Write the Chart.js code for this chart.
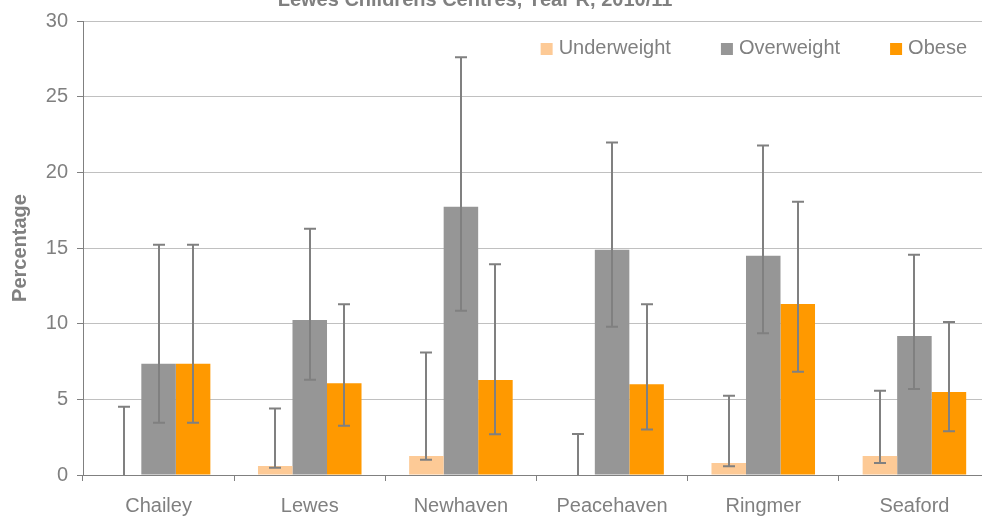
<!DOCTYPE html>
<html>
<head>
<meta charset="utf-8">
<script src="https://cdn.jsdelivr.net/npm/chart.js@4.4.0/dist/chart.umd.min.js"></script>
<style>
  html, body { margin: 0; padding: 0; background: #fff; overflow: hidden; }
  #wrap { position: relative; width: 992px; height: 517px; }
</style>
</head>
<body>
<div id="wrap">
    <canvas id="weightChart" width="992" height="517"></canvas>
</div>

<script>
var categories = ['Chailey', 'Lewes', 'Newhaven', 'Peacehaven', 'Ringmer', 'Seaford'];
var seriesNames = ['Underweight', 'Overweight', 'Obese'];
var seriesColors = ['#fdca96', '#969696', '#ff9900'];

var underweight     = [0, 0.59, 1.26, 0, 0.79, 1.26];
var underweightLow  = [0, 0.48, 1.0, 0, 0.58, 0.8];
var underweightHigh = [4.51, 4.4, 8.1, 2.71, 5.24, 5.57];

var overweight     = [7.35, 10.24, 17.73, 14.88, 14.48, 9.18];
var overweightLow  = [3.46, 6.29, 10.86, 9.8, 9.36, 5.68];
var overweightHigh = [15.21, 16.27, 27.6, 21.97, 21.77, 14.55];

var obese     = [7.35, 6.07, 6.27, 6.0, 11.3, 5.48];
var obeseLow  = [3.46, 3.25, 2.7, 3.0, 6.82, 2.89];
var obeseHigh = [15.21, 11.28, 13.93, 11.28, 18.06, 10.11];

var yTicks = [0, 5, 10, 15, 20, 25, 30];
var chartTitle = 'Lewes Childrens Centres, Year R, 2010/11';

var FONT = '"Liberation Sans", Arial, sans-serif';
var GREY = '#808080';

var values = [underweight, overweight, obese];
var lows = [underweightLow, overweightLow, obeseLow];
var highs = [underweightHigh, overweightHigh, obeseHigh];

document.addEventListener('DOMContentLoaded', function () {
    var ctx = document.getElementById('weightChart').getContext('2d');

    var datasets = seriesNames.map(function (name, i) {
        return {
            label: name,
            data: values[i],
            errLow: lows[i],
            errHigh: highs[i],
            backgroundColor: seriesColors[i],
            borderWidth: 0,
            categoryPercentage: 0.685,
            barPercentage: 1.0
        };
    });

    // error bars drawn over the bars
    var errorBars = {
        id: 'errorBars',
        afterDatasetsDraw: function (chart) {
            var c = chart.ctx;
            var y = chart.scales.y;
            c.save();
            c.strokeStyle = GREY;
            c.lineWidth = 2;
            chart.data.datasets.forEach(function (ds, i) {
                var meta = chart.getDatasetMeta(i);
                meta.data.forEach(function (bar, j) {
                    var x = Math.round(bar.x);
                    var yLo = y.getPixelForValue(ds.errLow[j]);
                    var yHi = y.getPixelForValue(ds.errHigh[j]);
                    c.beginPath();
                    c.moveTo(x, yLo);
                    c.lineTo(x, yHi);
                    c.moveTo(x - 6, yHi);
                    c.lineTo(x + 6, yHi);
                    if (ds.errLow[j] > 0) {
                        c.moveTo(x - 6, yLo);
                        c.lineTo(x + 6, yLo);
                    }
                    c.stroke();
                });
            });
            c.restore();
        }
    };

    // legend sits inside the plot, top right; title is clipped at the top edge
    var extras = {
        id: 'extras',
        afterDraw: function (chart) {
            var c = chart.ctx;
            var area = chart.chartArea;
            c.save();
            c.font = '20px ' + FONT;
            c.textBaseline = 'middle';
            c.textAlign = 'left';
            var x = area.right - 23;
            var items = chart.data.datasets.slice().reverse();
            var pos = [];
            items.forEach(function (ds) {
                var w = c.measureText(ds.label).width;
                x -= w;
                pos.unshift({ ds: ds, textX: x });
                x -= 18 + 50;
            });
            pos.forEach(function (p) {
                c.fillStyle = p.ds.backgroundColor;
                c.fillRect(p.textX - 18, 43, 12, 12);
                c.fillStyle = GREY;
                c.fillText(p.ds.label, p.textX, 48);
            });

            c.font = 'bold 20px ' + FONT;
            c.textAlign = 'center';
            c.textBaseline = 'alphabetic';
            c.fillText(chartTitle, 475, 6);
            c.restore();
        }
    };

    new Chart(ctx, {
        type: 'bar',
        data: { labels: categories, datasets: datasets },
        options: {
            responsive: false,
            animation: false,
            layout: { padding: { top: 21, right: 2, left: 0, bottom: 0 } },
            plugins: {
                legend: { display: false },
                tooltip: { enabled: false },
                title: { display: false }
            },
            scales: {
                x: {
                    afterFit: function (axis) { axis.height = 42; },
                    grid: {
                        drawOnChartArea: false,
                        drawTicks: true,
                        tickLength: 6,
                        tickColor: GREY,
                        offset: true
                    },
                    border: { color: GREY, width: 1 },
                    ticks: {
                        color: GREY,
                        font: { family: FONT, size: 20 },
                        padding: 13,
                        maxRotation: 0
                    }
                },
                y: {
                    min: 0,
                    max: 30,
                    afterBuildTicks: function (axis) {
                        axis.ticks = yTicks.map(function (v) { return { value: v }; });
                    },
                    afterFit: function (axis) { axis.width = 83; },
                    grid: {
                        color: '#c0c0c0',
                        lineWidth: 1,
                        tickLength: 6,
                        tickColor: GREY
                    },
                    border: { color: GREY, width: 1 },
                    ticks: {
                        color: GREY,
                        font: { family: FONT, size: 20 },
                        padding: 9
                    },
                    title: {
                        display: true,
                        text: 'Percentage',
                        color: GREY,
                        font: { family: FONT, size: 20, weight: 'bold' },
                        padding: { top: 8, bottom: 0 }
                    }
                }
            }
        },
        plugins: [errorBars, extras]
    });
});
</script>
</body>
</html>
